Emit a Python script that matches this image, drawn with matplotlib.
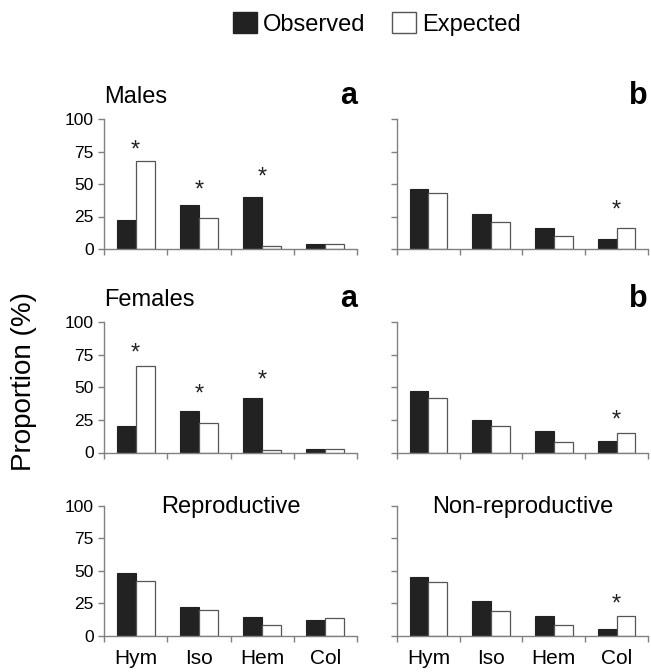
import numpy as np
import matplotlib
matplotlib.use('Agg')
import matplotlib.pyplot as plt
from matplotlib.patches import Patch

plt.rcParams['font.family'] = ['Liberation Sans', 'DejaVu Sans']

# ─── Data ───────────────────────────────────────────────────────────────────
CATEGORIES = ['Hym', 'Iso', 'Hem', 'Col']

males_a_obs = [22, 34, 40, 3.5]
males_a_exp = [68, 23.5, 2, 3.5]
males_a_star = [79.5, 48, 58.5, None]

males_b_obs = [46.5, 27, 16.5, 7.5]
males_b_exp = [43, 21, 10, 16]
males_b_star = [None, None, None, 33]

females_a_obs = [20.5, 31.5, 42, 2.5]
females_a_exp = [66.5, 22.5, 2, 2.5]
females_a_star = [79.5, 47.5, 58.5, None]

females_b_obs = [47, 25, 16.5, 8.5]
females_b_exp = [42, 20.5, 8, 15]
females_b_star = [None, None, None, 28]

repro_obs = [48, 22, 14.5, 12.5]
repro_exp = [42, 20, 8.5, 14]
repro_star = [None, None, None, None]

nonrepro_obs = [45.5, 27, 15.5, 5.5]
nonrepro_exp = [41, 19.5, 8.5, 15]
nonrepro_star = [None, None, None, 27.5]

YTICKS = [0, 25, 50, 75, 100]

# ─── Style ──────────────────────────────────────────────────────────────────
AXIS_C = '#808080'
OBS_C = '#222222'
EXP_EDGE = '#555555'

W, H = 651, 672
fig = plt.figure(figsize=(W / 100, H / 100), dpi=100)

col_x = [(104, 357), (397, 648)]
row_y = [(119, 249), (322, 452.5), (505.5, 636)]


def make_ax(row, col):
    x0, x1 = col_x[col]
    y0, y1 = row_y[row]
    return fig.add_axes([x0 / W, 1 - y1 / H, (x1 - x0) / W, (y1 - y0) / H])


def draw_panel(ax, obs, exp, stars, left, bottom):
    x = np.arange(len(CATEGORIES))
    ax.bar(x + 0.2, obs, width=0.3, align='edge', color=OBS_C,
           edgecolor=OBS_C, linewidth=0.8)
    ax.bar(x + 0.5, exp, width=0.3, align='edge', color='white',
           edgecolor=EXP_EDGE, linewidth=0.9)
    for i, s in enumerate(stars):
        if s is not None:
            ax.annotate('*', (i + 0.5, s), xytext=(0, -7.5),
                        textcoords='offset points', ha='center',
                        va='baseline', fontsize=17, color='#222222')
    ax.set_xlim(0, len(CATEGORIES))
    ax.set_ylim(0, 100)
    for sp in ['top', 'right']:
        ax.spines[sp].set_visible(False)
    for sp in ['left', 'bottom']:
        ax.spines[sp].set_color(AXIS_C)
        ax.spines[sp].set_linewidth(1.0)
    ax.set_yticks(YTICKS)
    ax.set_xticks(np.arange(len(CATEGORIES) + 1))
    ax.set_xticklabels([])
    ax.tick_params(axis='both', which='major', direction='out', length=4,
                   width=1, color=AXIS_C, labelsize=12.5)
    if not left:
        ax.set_yticklabels([])
    if bottom:
        ax.set_xticks(x + 0.5, minor=True)
        ax.set_xticklabels(CATEGORIES, minor=True, fontsize=15)
        ax.tick_params(axis='x', which='minor', length=0, pad=9)
    ax.patch.set_alpha(0)


panels = [
    (0, 0, males_a_obs, males_a_exp, males_a_star),
    (0, 1, males_b_obs, males_b_exp, males_b_star),
    (1, 0, females_a_obs, females_a_exp, females_a_star),
    (1, 1, females_b_obs, females_b_exp, females_b_star),
    (2, 0, repro_obs, repro_exp, repro_star),
    (2, 1, nonrepro_obs, nonrepro_exp, nonrepro_star),
]

axes = {}
for row, col, obs, exp, stars in panels:
    ax = make_ax(row, col)
    draw_panel(ax, obs, exp, stars, left=(col == 0), bottom=(row == 2))
    axes[(row, col)] = ax

# panel titles
for row, name in [(0, 'Males'), (1, 'Females')]:
    axes[(row, 0)].text(0, 1.125, name, transform=axes[(row, 0)].transAxes,
                        ha='left', va='baseline', fontsize=17)
    axes[(row, 0)].text(1, 1.115, 'a', transform=axes[(row, 0)].transAxes,
                        ha='right', va='baseline', fontsize=22, fontweight='bold')
    axes[(row, 1)].text(1, 1.115, 'b', transform=axes[(row, 1)].transAxes,
                        ha='right', va='baseline', fontsize=22, fontweight='bold')

axes[(2, 0)].text(0.5, 0.945, 'Reproductive', transform=axes[(2, 0)].transAxes,
                  ha='center', va='baseline', fontsize=17)
axes[(2, 1)].text(0.5, 0.945, 'Non-reproductive', transform=axes[(2, 1)].transAxes,
                  ha='center', va='baseline', fontsize=17)

fig.text(0.037, 0.433, 'Proportion (%)', rotation=90, ha='center', va='center',
         fontsize=20)

handles = [Patch(facecolor=OBS_C, edgecolor=OBS_C, label='Observed'),
           Patch(facecolor='white', edgecolor=EXP_EDGE, label='Expected')]
fig.legend(handles=handles, loc='center left', bbox_to_anchor=(233 / W, 1 - 24 / H),
           ncol=2, frameon=False, fontsize=17, handlelength=1.0,
           handleheight=1.0, handletextpad=0.25, columnspacing=1.15,
           borderpad=0, borderaxespad=0)

fig.savefig('out.png', dpi=100, facecolor='white')
